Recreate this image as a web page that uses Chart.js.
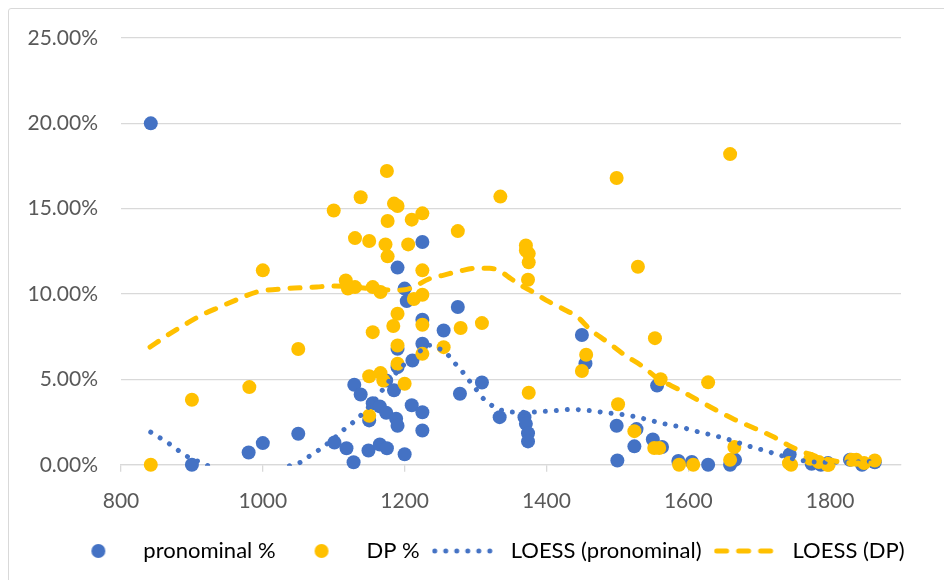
<!DOCTYPE html>
<html>
<head>
<meta charset="utf-8">
<script src="https://cdn.jsdelivr.net/npm/chart.js@4/dist/chart.umd.min.js"></script>
<style>
  body { margin: 0; background: #fff; }
  #wrap { position: relative; width: 944px; height: 580px; }
  #frame { position: absolute; left: 8px; top: 8px; width: 960px; height: 600px; border: 1.5px solid #d9d9d9; border-radius: 3px; }
</style>
</head>
<body>
<div id="wrap">
  <div id="frame"></div>
  <canvas id="chart"></canvas>
</div>
<script>
// data (year, percent)
const pronominalYear = [842, 900, 980, 1000, 1050, 1101, 1118, 1129, 1128, 1138, 1149, 1150, 1155, 1165, 1165, 1174, 1174, 1175, 1185, 1188, 1190, 1190, 1190, 1190, 1200, 1200, 1203, 1210, 1211, 1225, 1225, 1225, 1225, 1225, 1255, 1275, 1278, 1309, 1334, 1369, 1371, 1374, 1374, 1450, 1455, 1499, 1500, 1524, 1527, 1550, 1556, 1563, 1586, 1605, 1628, 1659, 1666, 1743, 1774, 1787, 1797, 1828, 1845, 1863];
const pronominalPct = [20.0, 0.0, 0.72, 1.27, 1.82, 1.31, 0.97, 4.69, 0.15, 4.12, 0.84, 2.6, 3.61, 3.42, 1.19, 4.94, 3.05, 0.97, 4.36, 2.7, 2.29, 6.8, 5.72, 11.55, 10.32, 0.62, 9.59, 3.49, 6.11, 13.05, 8.5, 7.09, 3.08, 2.01, 7.87, 9.24, 4.16, 4.82, 2.79, 2.79, 2.4, 1.85, 1.37, 7.6, 5.94, 2.29, 0.25, 1.08, 2.09, 1.48, 4.64, 1.04, 0.22, 0.16, 0.0, 0.0, 0.29, 0.61, 0.06, 0.0, 0.1, 0.3, 0.0, 0.15];

const dpYear = [842, 900, 981, 1000, 1050, 1100, 1117, 1120, 1130, 1130, 1138, 1150, 1150, 1150, 1155, 1155, 1166, 1166, 1170, 1173, 1175, 1176, 1176, 1184, 1185, 1190, 1190, 1190, 1190, 1200, 1205, 1210, 1213, 1225, 1225, 1225, 1225, 1225, 1255, 1275, 1279, 1309, 1335, 1371, 1371, 1375, 1375, 1374, 1375, 1450, 1456, 1499, 1501, 1524, 1529, 1552, 1553, 1559, 1561, 1587, 1607, 1628, 1659, 1659, 1665, 1742, 1745, 1772, 1784, 1796, 1798, 1830, 1837, 1848, 1863];
const dpPct = [0.0, 3.81, 4.55, 11.39, 6.78, 14.9, 10.8, 10.32, 10.41, 13.28, 15.67, 13.11, 5.19, 2.87, 10.41, 7.77, 10.12, 5.37, 4.94, 12.91, 17.21, 14.28, 12.21, 8.13, 15.3, 15.16, 8.85, 6.99, 5.92, 4.75, 12.91, 14.36, 9.71, 14.73, 11.39, 9.96, 8.2, 6.5, 6.89, 13.69, 8.01, 8.3, 15.71, 12.85, 12.56, 12.37, 11.86, 10.84, 4.22, 5.49, 6.45, 16.8, 3.55, 1.97, 11.6, 0.98, 7.42, 0.98, 5.01, 0.0, 0.0, 4.83, 18.2, 0.29, 1.04, 0.1, 0.0, 0.35, 0.16, 0.0, 0.0, 0.29, 0.29, 0.1, 0.25];

const loessPronYear = [842, 868, 893, 920, 950, 980, 1010, 1038, 1052, 1065, 1078, 1096, 1114, 1126, 1138, 1160, 1180, 1200, 1220, 1235, 1245, 1258, 1268, 1279, 1288, 1298, 1307, 1318, 1331, 1345, 1360, 1376, 1391, 1406, 1421, 1437, 1452, 1467, 1483, 1499, 1514, 1529, 1545, 1560, 1575, 1590, 1605, 1620, 1636, 1650, 1665, 1680, 1695, 1710, 1725, 1755, 1790, 1863];
const loessPronPct = [1.91, 1.23, 0.5, 0.0, -0.6, -0.9, -0.7, -0.05, 0.12, 0.49, 0.84, 1.4, 2.05, 2.44, 2.89, 3.9, 5.0, 5.9, 6.6, 7.0, 6.86, 6.58, 6.07, 5.59, 5.08, 4.59, 4.06, 3.63, 3.28, 3.12, 3.08, 3.08, 3.12, 3.15, 3.2, 3.25, 3.2, 3.15, 3.05, 2.98, 2.9, 2.78, 2.62, 2.46, 2.33, 2.21, 2.03, 1.87, 1.72, 1.56, 1.38, 1.16, 0.98, 0.81, 0.61, 0.29, 0.15, 0.2];

const loessDpYear = [841, 866, 892, 915, 939, 965, 991, 1033, 1076, 1094, 1118, 1139, 1160, 1184, 1200, 1212, 1235, 1254, 1278, 1301, 1320, 1334, 1350, 1364, 1381, 1400, 1423, 1444, 1461, 1487, 1511, 1535, 1556, 1587, 1613, 1639, 1665, 1694, 1720, 1746, 1769, 1793, 1817, 1863];
const loessDpPct = [6.9, 7.6, 8.26, 8.8, 9.24, 9.7, 10.12, 10.32, 10.41, 10.47, 10.45, 10.37, 10.3, 10.22, 10.25, 10.41, 10.9, 11.1, 11.35, 11.52, 11.52, 11.35, 10.9, 10.51, 10.12, 9.63, 9.14, 8.65, 7.95, 7.16, 6.41, 5.78, 5.09, 4.4, 3.8, 3.21, 2.66, 2.13, 1.64, 1.04, 0.65, 0.36, 0.15, 0.1];

const seriesLabels = ['pronominal %', 'DP %', 'LOESS (pronominal)', 'LOESS (DP)'];
const xTicks = [800, 1000, 1200, 1400, 1600, 1800];

const BLUE = '#4472C4';
const GOLD = '#FFC000';
const TEXT = '#595959';
const GRID = '#d9d9d9';
const DOTS = [0.01, 11];
const DASHES = [10, 12];
const LEGEND_SHIFT_X = 34; // legend sits a bit right of centre in the original
const LEGEND_SHIFT_Y = -3;

const toPoints = (xs, ys) => xs.map((x, i) => ({x: x, y: ys[i]}));

// little pictures for the legend (point marker or line sample, centred)
const makeIcon = (draw) => {
  const c = document.createElement('canvas');
  c.width = 68;
  c.height = 20;
  draw(c.getContext('2d'));
  return c;
};
const dotIcon = (color) => makeIcon((g) => {
  g.fillStyle = color;
  g.beginPath();
  g.arc(34, 10, 7, 0, Math.PI * 2);
  g.fill();
});
const lineIcon = (color, dash, width) => makeIcon((g) => {
  g.strokeStyle = color;
  g.lineWidth = width;
  g.lineCap = 'round';
  g.setLineDash(dash);
  g.beginPath();
  g.moveTo(3, 10);
  g.lineTo(66, 10);
  g.stroke();
});
const legendIcons = [dotIcon(BLUE), dotIcon(GOLD), lineIcon(BLUE, DOTS, 5), lineIcon(GOLD, DASHES, 5)];

const shiftLegend = {
  id: 'shiftLegend',
  afterLayout(chart) {
    const lg = chart.legend;
    lg.left += LEGEND_SHIFT_X;
    lg.right += LEGEND_SHIFT_X;
    lg.top += LEGEND_SHIFT_Y;
    lg.bottom += LEGEND_SHIFT_Y;
  }
};

Chart.defaults.font.family = "Lato, 'Open Sans', sans-serif";
Chart.defaults.font.size = 21;
Chart.defaults.color = TEXT;

const ctx = document.getElementById('chart').getContext('2d');
const chart = new Chart(ctx, {
  type: 'scatter',
  plugins: [shiftLegend],
  data: {
    datasets: [
      {
        label: seriesLabels[0],
        data: toPoints(pronominalYear, pronominalPct),
        backgroundColor: BLUE,
        borderWidth: 0,
        pointRadius: 7,
        clip: false,
        order: 3
      },
      {
        label: seriesLabels[1],
        data: toPoints(dpYear, dpPct),
        backgroundColor: GOLD,
        borderWidth: 0,
        pointRadius: 7,
        clip: false,
        order: 2
      },
      {
        label: seriesLabels[2],
        type: 'line',
        data: toPoints(loessPronYear, loessPronPct),
        borderColor: BLUE,
        borderWidth: 5,
        borderDash: DOTS,
        borderCapStyle: 'round',
        pointRadius: 0,
        cubicInterpolationMode: 'monotone',
        fill: false,
        clip: {left: 0, top: 0, right: 0, bottom: 1},
        order: 1
      },
      {
        label: seriesLabels[3],
        type: 'line',
        data: toPoints(loessDpYear, loessDpPct),
        borderColor: GOLD,
        borderWidth: 5,
        borderDash: DASHES,
        borderCapStyle: 'round',
        pointRadius: 0,
        cubicInterpolationMode: 'monotone',
        fill: false,
        clip: {left: 0, top: 0, right: 0, bottom: 2},
        order: 0
      }
    ]
  },
  options: {
    responsive: true,
    maintainAspectRatio: false,
    animation: false,
    events: [],
    layout: {
      padding: {top: 38, right: 43, bottom: 5, left: 0}
    },
    plugins: {
      tooltip: {enabled: false},
      legend: {
        position: 'bottom',
        labels: {
          usePointStyle: true,
          pointStyleWidth: 68,
          padding: 12,
          color: TEXT,
          font: {size: 22},
          generateLabels: (chart) => chart.data.datasets.map((ds, i) => ({
            text: ds.label,
            pointStyle: legendIcons[i],
            fillStyle: 'transparent',
            strokeStyle: 'transparent',
            lineWidth: 0,
            hidden: false,
            datasetIndex: i
          }))
        }
      }
    },
    scales: {
      x: {
        type: 'linear',
        min: 800,
        max: 1900,
        afterBuildTicks: (scale) => {
          scale.ticks = xTicks.map((v) => ({value: v}));
        },
        grid: {
          drawOnChartArea: false,
          drawTicks: true,
          tickLength: 7,
          tickColor: GRID,
          lineWidth: 1.3
        },
        border: {display: true, color: GRID, width: 1.3},
        ticks: {padding: 17, color: TEXT, maxRotation: 0, callback: (v) => String(v)}
      },
      y: {
        min: 0,
        max: 25,
        afterFit: (scale) => { scale.width = 121; },
        ticks: {
          stepSize: 5,
          padding: 23,
          color: TEXT,
          callback: (v) => v.toFixed(2) + '%'
        },
        grid: {color: GRID, lineWidth: 1.3, drawTicks: false},
        border: {display: false}
      }
    }
  }
});
</script>
</body>
</html>
